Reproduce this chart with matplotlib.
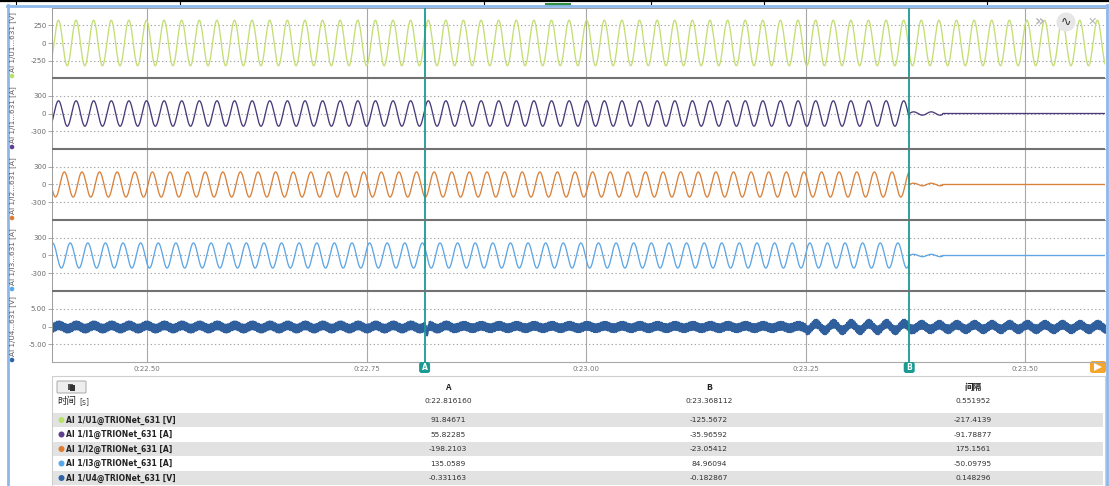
import numpy as np
import matplotlib
matplotlib.use("Agg")
import matplotlib.pyplot as plt
from matplotlib.patches import FancyBboxPatch, Rectangle, Circle, Polygon

plt.rcParams['font.family'] = ['DejaVu Sans', 'Noto Sans CJK SC']
CJK = ['Noto Sans CJK SC', 'DejaVu Sans']

W, H = 1109, 486

# ---------------- data ----------------
channel_short = ["AI 1/U1...631 [V]", "AI 1/I1...631 [A]", "AI 1/I2...631 [A]",
                 "AI 1/I3...631 [A]", "AI 1/U4...631 [V]"]
channel_full = ["AI 1/U1@TRIONet_631", "AI 1/I1@TRIONet_631", "AI 1/I2@TRIONet_631",
                "AI 1/I3@TRIONet_631", "AI 1/U4@TRIONet_631"]
channel_units = ["[V]", "[A]", "[A]", "[A]", "[V]"]
line_colors = ["#c3de74", "#4a3a7a", "#d9823b", "#5ea6e4", "#2f5f9c"]
dot_colors = ["#b6e26a", "#5e3f8e", "#e07b2f", "#58a8ef", "#2f63a6"]

amplitudes = [325.0, 215.0, 212.0, 212.0]          # peak values of the sine channels
phase_at_A_deg = [16.4, 14.7, -105.3, 134.7]        # phase at cursor A
freq_hz = 49.86
tripped = [False, True, True, True]
transient_amp = [0.0, 28.0, 22.0, 20.0]
transient_dur = 0.038

u4_seg_start = [22.30, 22.85, 23.25, 23.37]
u4_ripple_amp = [0.45, 0.35, 0.95, 0.65]
u4_band_half = 1.0
u4_dip_time = 22.8185
u4_dip_depth = -1.9

y_half_range = [500, 600, 600, 600, 10]
y_ticks = [[-250, 0, 250], [-300, 0, 300], [-300, 0, 300], [-300, 0, 300], [-5, 0, 5]]
y_ticklabels = [["-250", "0", "250"], ["-300", "0", "300"], ["-300", "0", "300"],
                ["-300", "0", "300"], ["-5.00", "0", "5.00"]]
x_ticks = [22.50, 22.75, 23.00, 23.25, 23.50]
x_ticklabels = ["0:22.50", "0:22.75", "0:23.00", "0:23.25", "0:23.50"]
t_left, t_right = 22.3918, 23.5911

cursor_names = ["A", "B"]
cursor_times = [22.816160, 23.368112]
cursor_time_labels = ["0:22.816160", "0:23.368112"]
time_label = "时间"
interval_name = "间隔"
interval_value = "0.551952"
values_A = ["91.84671", "55.82285", "-198.2103", "135.0589", "-0.331163"]
values_B = ["-125.5672", "-35.96592", "-23.05412", "84.96094", "-0.182867"]
values_diff = ["-217.4139", "-91.78877", "175.1561", "-50.09795", "0.148296"]

# ---------------- layout (pixels) ----------------
panel_edges = [8, 78, 149, 220, 291, 362]
px0, px1 = 52, 1105


def rect(x0, y0, x1, y1):
    return [x0 / W, 1 - y1 / H, (x1 - x0) / W, (y1 - y0) / H]


fig = plt.figure(figsize=(W / 100, H / 100), dpi=100)
fig.patch.set_facecolor("white")

t = np.linspace(t_left, t_right, 30000)
omega = 2 * np.pi * freq_hz
tA, tB = cursor_times

axes = []
for i in range(5):
    ax = fig.add_axes(rect(px0, panel_edges[i], px1, panel_edges[i + 1]),
                      sharex=axes[0] if axes else None)
    axes.append(ax)
    ax.set_xlim(t_left, t_right)
    ax.set_ylim(-y_half_range[i], y_half_range[i])
    ax.set_yticks(y_ticks[i])
    ax.set_yticklabels(y_ticklabels[i])
    ax.set_xticks(x_ticks)
    ax.tick_params(axis="y", direction="out", length=3, width=0.6, color="#9a9a9a",
                   labelsize=5, labelcolor="#6a6a6a", pad=1)
    ax.tick_params(axis="x", length=0, labelsize=5, labelcolor="#777777", pad=3)
    if i < 4:
        ax.tick_params(axis="x", labelbottom=False)
    else:
        ax.set_xticklabels(x_ticklabels)
    for s in ax.spines.values():
        s.set_color("#9a9a9a")
        s.set_linewidth(0.7)
    ax.spines["right"].set_visible(False)
    ax.grid(axis="x", color="#a8a8a8", lw=0.8, ls="-")
    ax.grid(axis="y", color="#a4a4a4", lw=0.8, ls=(0, (1.2, 2.2)))
    ax.set_axisbelow(True)

    if i < 4:
        ph = np.deg2rad(phase_at_A_deg[i])
        y = amplitudes[i] * np.sin(omega * (t - tA) + ph)
        if tripped[i]:
            after = t >= tB
            trans = transient_amp[i] * np.sin(omega * (t - tB)) * (t < tB + transient_dur)
            y = np.where(after, trans, y)
        ax.plot(t, y, color=line_colors[i], lw=0.95)
    else:
        seg_idx = np.clip(np.searchsorted(u4_seg_start, t) - 1, 0, len(u4_seg_start) - 1)
        ramp = np.array(u4_ripple_amp)[seg_idx]
        center = ramp * np.sin(omega * (t - tA) + 0.3)
        center = center + u4_dip_depth * np.exp(-((t - u4_dip_time) / 0.0015) ** 2)
        edge = 0.22 * np.sin(2 * np.pi * 610 * t) + 0.15 * np.sin(2 * np.pi * 1730 * t)
        ax.fill_between(t, center - u4_band_half + edge, center + u4_band_half - edge,
                        color=line_colors[i], lw=0.6, edgecolor=line_colors[i])

    for tc in cursor_times:
        ax.axvline(tc, color="#1a9a92", lw=1.3, zorder=5)

# ---------------- overlay in pixel space ----------------
ov = fig.add_axes([0, 0, 1, 1])
ov.set_xlim(0, W)
ov.set_ylim(H, 0)
ov.axis("off")
ov.patch.set_visible(False)

# panel separators
for yy in panel_edges[1:-1]:
    ov.plot([px0, px1], [yy, yy], color="#727272", lw=1.5, solid_capstyle="butt")
ov.plot([px0, px1], [362, 362], color="#a8a8a8", lw=0.8)

# window frame
ov.plot([0, W], [1, 1], color="black", lw=1.6)
for xx in [16, 180, 484, 651, 764, 987]:
    ov.plot([xx, xx], [0, 4], color="black", lw=0.8)
ov.add_patch(Rectangle((545, 3), 26, 3, color="#2f8f3f", lw=0))
ov.plot([7, W - 1], [6, 6], color="#8fb8ea", lw=2.0)
ov.plot([8, 8], [5, H], color="#8fb8ea", lw=2.0)
ov.plot([1107, 1107], [5, H], color="#8fb8ea", lw=2.0)

# left channel labels
for i in range(5):
    bottom = panel_edges[i + 1]
    ov.add_patch(Circle((12, bottom - 2), 2.3, color=dot_colors[i], lw=0))
    ov.text(12.5, bottom - 6, channel_short[i], rotation=90, ha="center", va="bottom",
            fontsize=5.2, color="#5a5a5a")

# top-right icons
ov.text(1040, 22, "»", fontsize=11, color="#b5b5b5", ha="center", va="center",
        fontweight="bold")
ov.add_patch(Circle((1066, 22), 9.5, color="#e6e6e6", lw=0))
ov.text(1066, 22, "∿", fontsize=9, color="#333333", ha="center", va="center")
ov.text(1092, 22, "✕", fontsize=8, color="#b5b5b5", ha="center", va="center")

# cursor tags (x position from the bottom panel's data transform)
for name, tc in zip(cursor_names, cursor_times):
    xd = axes[4].transData.transform((tc, 0))[0]
    ov.add_patch(FancyBboxPatch((xd - 5.5, 362), 11, 11,
                                boxstyle="round,pad=0,rounding_size=2.5",
                                color="#1a9a92", lw=0, zorder=6))
    ov.text(xd, 367.8, name, ha="center", va="center",
            fontsize=5.5, color="white", fontweight="bold", zorder=7)

# orange play tag
ov.add_patch(FancyBboxPatch((1090, 361), 16, 12, boxstyle="round,pad=0,rounding_size=2.5",
                            color="#f6a52a", lw=0))
ov.add_patch(Polygon([[1094, 363], [1094, 371], [1102, 367]], closed=True,
                     color="white", lw=0))

# ---------------- table ----------------
ov.add_patch(Rectangle((52, 376), 1053, 112, facecolor="white", edgecolor="#cfcfcf", lw=0.8))
ov.add_patch(FancyBboxPatch((57, 381), 29, 12, boxstyle="round,pad=0,rounding_size=1",
                            facecolor="#eeeeee", edgecolor="#a9a9a9", lw=0.7))
ov.add_patch(Rectangle((68, 384), 5, 6, facecolor="#555555", lw=0))
ov.add_patch(Rectangle((70, 385), 5, 6, facecolor="#333333", lw=0))
ov.text(57, 401, time_label, fontsize=6.8, color="#222222", ha="left", va="center",
        family=CJK)
ov.text(79, 401.5, "[s]", fontsize=5.5, color="#444444", ha="left", va="center")

col_x = [448, 709, 973]
headers = cursor_names + [interval_name]
time_row = cursor_time_labels + [interval_value]
for cx, hd, tv in zip(col_x, headers, time_row):
    ov.text(cx, 387, hd, fontsize=6.2, fontweight="bold", color="#222222",
            ha="center", va="center", family=CJK)
    ov.text(cx, 401, tv, fontsize=5.4, color="#333333", ha="center", va="center")

row_y = [420, 434.5, 449, 463.5, 478]
for i in range(5):
    if i % 2 == 0:
        ov.add_patch(Rectangle((53, row_y[i] - 7), 1050, 14, facecolor="#e2e2e2", lw=0))
    ov.add_patch(Circle((61.5, row_y[i]), 3.0, color=dot_colors[i], lw=0))
    ov.text(66.5, row_y[i], channel_full[i] + " " + channel_units[i], fontsize=5.5,
            fontweight="bold", color="#222222", ha="left", va="center")
    for cx, vals in zip(col_x, [values_A, values_B, values_diff]):
        ov.text(cx, row_y[i], vals[i], fontsize=5.4, color="#333333",
                ha="center", va="center")

fig.savefig("out.png", dpi=100, facecolor="white")
